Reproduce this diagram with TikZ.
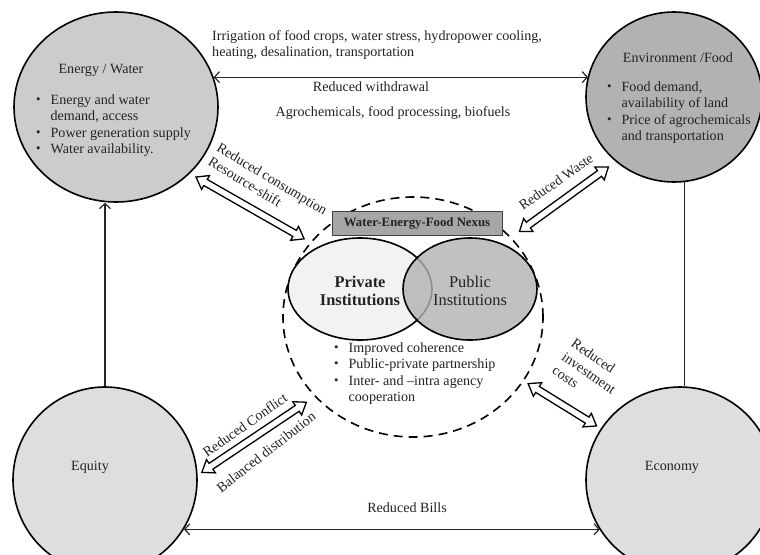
\documentclass[tikz,border=0pt]{standalone}
\usepackage{fontspec}
\usepackage{graphicx}
\setmainfont{Liberation Serif}
\usetikzlibrary{shapes.geometric,calc,arrows.meta}
\definecolor{txt}{RGB}{35,35,35}
\definecolor{ewfill}{RGB}{204,204,204}
\definecolor{effill}{RGB}{178,178,178}
\definecolor{eqfill}{RGB}{222,222,222}
\definecolor{privfill}{RGB}{242,242,242}
\definecolor{pubfill}{RGB}{178,178,178}
\definecolor{boxfill}{RGB}{166,166,166}
\newcommand{\bul}{\raisebox{1pt}{\scalebox{0.9}{\textbullet}}}
\newcommand{\harrow}[4]{%
 \pgfmathsetmacro\hgA{#3}\pgfmathsetmacro\hgB{#4}%
 \pgfmathsetmacro\hhA{#3+11}\pgfmathsetmacro\hhB{#4+11}%
 \coordinate (hpA) at ($(#1)!\hgA pt!(#2)$);
 \coordinate (hpB) at ($(#2)!\hgB pt!(#1)$);
 \coordinate (hqA) at ($(#1)!\hhA pt!(#2)$);
 \coordinate (hqB) at ($(#2)!\hhB pt!(#1)$);
 \draw[hollowarrow] (hpA)
  -- ($(hqA)!8pt!90:(hpB)$)
  -- ($(hqA)!3.5pt!90:(hpB)$)
  -- ($(hqB)!3.5pt!-90:(hpA)$)
  -- ($(hqB)!8pt!-90:(hpA)$)
  -- (hpB)
  -- ($(hqB)!8pt!90:(hpA)$)
  -- ($(hqB)!3.5pt!90:(hpA)$)
  -- ($(hqA)!3.5pt!-90:(hpB)$)
  -- ($(hqA)!8pt!-90:(hpB)$)
  -- cycle;}
\begin{document}
\begin{tikzpicture}[x=1pt,y=-1pt,
  every node/.style={text=txt, font=\fontsize{14.1}{16.5}\selectfont, inner sep=0pt},
  bigcirc/.style={ellipse, draw=black, line width=1.6pt, inner sep=0pt},
  hollowarrow/.style={draw=black, fill=white, line width=1.3pt, line join=miter},
  thinline/.style={draw=black!85, line width=1.2pt},
  >={Straight Barb[length=5pt,width=11pt]}]
\useasboundingbox (0,0) rectangle (760,554);
\fill[white] (0,0) rectangle (760,554);
\clip (0,0) rectangle (760,554);
% big circles
\node[bigcirc, fill=ewfill, minimum width=204pt, minimum height=190pt] (ew) at (116,107) {};
\node[bigcirc, fill=effill, minimum width=176pt, minimum height=170pt] (ef) at (674,97) {};
\node[bigcirc, fill=eqfill, minimum width=184pt, minimum height=186pt] (eq) at (105,480) {};
\node[bigcirc, fill=eqfill, minimum width=188pt, minimum height=186pt] (ec) at (680,480) {};
% nexus
\node[ellipse, draw=black, dash pattern=on 9pt off 6pt, line width=1.6pt, minimum width=260pt, minimum height=240pt] (nx) at (413,317) {};
\node[ellipse, draw=black, line width=1.6pt, fill=privfill, minimum width=144pt, minimum height=102pt] (priv) at (360,289) {};
\node[ellipse, draw=black, line width=1.6pt, fill=pubfill, fill opacity=0.8, minimum width=134pt, minimum height=102pt] (pub) at (470,289) {};
\node[draw=black!75, line width=0.8pt, fill=boxfill, minimum width=170pt, minimum height=24pt, font=\bfseries\fontsize{12.8}{14}\selectfont] (box) at (417,223) {Water-Energy-Food Nexus};
\node[align=center, font=\bfseries\fontsize{16.4}{18}\selectfont] (privt) at (360,291) {Private\\Institutions};
\node[align=center, font=\fontsize{16.4}{18}\selectfont] (pubt) at (470,291) {Public\\Institutions};
\node[anchor=base west] (nxl) at (334,352) {\begin{tabular}[t]{@{}l@{\hspace{10pt}}l@{}}\bul & Improved coherence\\ \bul & Public-private partnership\\ \bul & Inter- and –intra agency\\ & cooperation\end{tabular}};
% circle texts
\node (ewt) at (101,70) {Energy / Water};
\node[anchor=base west] (ewl) at (36,104) {\begin{tabular}[t]{@{}l@{\hspace{10pt}}l@{}}\bul & Energy and water\\ & demand, access\\ \bul & Power generation supply\\ \bul & Water availability.\end{tabular}};
\node (eft) at (678,58) {Environment /Food};
\node[anchor=base west] (efl) at (607,91) {\begin{tabular}[t]{@{}l@{\hspace{10pt}}l@{}}\bul & Food demand,\\ & availability of land\\ \bul & Price of agrochemicals\\ & and transportation\end{tabular}};
\node (eqt) at (90,467) {Equity};
\node (ect) at (672,467) {Economy};
% plain connectors
\draw[thinline, ->] (eq.north) -- (eq.north |- ew.south);
\draw[thinline] (ef.-83) -- (ef.-83 |- ec.north);
\draw[thinline, <->] (ew.17) -- (ew.17 -| ef.166);
\draw[thinline, <->] (eq.-32) -- (eq.-32 -| ec.212);
% top texts
\node[anchor=west, align=left] (t1) at (212,45) {Irrigation of food crops, water stress, hydropower cooling,\\heating, desalination, transportation};
\node (t2) at (371,87) {Reduced withdrawal};
\node (t3) at (393,113) {Agrochemicals, food processing, biofuels};
\node (t4) at (407,508) {Reduced Bills};
% hollow arrows
\harrow{ew.-42}{nx.144}{7}{7}
\harrow{ef.-132}{nx.39}{9}{10}
\harrow{eq.3}{nx.219}{5}{10}
\harrow{nx.-30}{ec.147}{5}{5}
% rotated labels
\node[rotate=-31, align=left] (l1) at (268,186) {Reduced consumption\\Resource-shift};
\node[rotate=35] (l2) at (556,182) {Reduced Waste};
\node[rotate=35] (l3) at (245,425) {Reduced Conflict};
\node[rotate=38] (l3b) at (266,452) {Balanced distribution};
\node[rotate=-35, align=left] (l4) at (589,373) {Reduced\\investment\\costs};
\end{tikzpicture}
\end{document}
